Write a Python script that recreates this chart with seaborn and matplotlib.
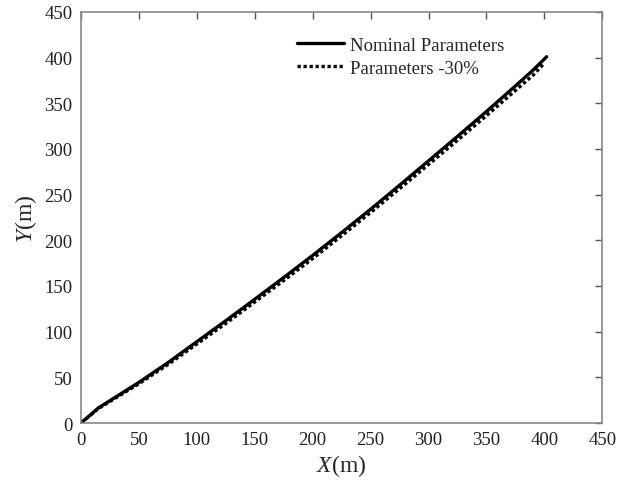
import matplotlib
matplotlib.use("Agg")
import matplotlib.pyplot as plt
import seaborn as sns
import pandas as pd

# Data
x_nominal = [0, 5, 10, 15, 30, 50, 75, 100, 125, 150, 175, 200, 225, 250, 275, 300, 325, 350, 375, 390, 402]
y_nominal = [0, 5.5, 11, 16.5, 28.5, 44.5, 66, 89, 112, 135.5, 159.3, 183.5, 208.5, 234, 260.3, 287, 313.8, 341, 369, 386, 401]
x_minus30 = [0, 5, 10, 15, 30, 50, 75, 100, 125, 150, 175, 200, 225, 250, 275, 300, 325, 350, 375, 390, 400]
y_minus30 = [0, 5.2, 10.5, 15.8, 27.5, 43, 64, 86.5, 109, 132.5, 156, 180, 205, 230.5, 256.5, 283, 309.5, 336.5, 364, 380.5, 394]
labels = ["Nominal Parameters", "Parameters -30%"]
xticks = [0, 50, 100, 150, 200, 250, 300, 350, 400, 450]
yticks = [0, 50, 100, 150, 200, 250, 300, 350, 400, 450]

sns.set_style("white")
plt.rcParams['font.family'] = ['Liberation Serif', 'DejaVu Serif']
plt.rcParams['mathtext.fontset'] = 'custom'
plt.rcParams['mathtext.rm'] = 'Liberation Serif'
plt.rcParams['mathtext.it'] = 'Liberation Serif:italic'

df1 = pd.DataFrame({"x": x_nominal, "y": y_nominal})
df2 = pd.DataFrame({"x": x_minus30, "y": y_minus30})

fig = plt.figure(figsize=(6.28, 4.81), dpi=100)
ax = fig.add_axes([0.129, 0.1185, 0.830, 0.8545])

sns.lineplot(data=df1, x="x", y="y", sort=False, ax=ax, color="black",
             linewidth=2.4, linestyle="-", label=labels[0])
sns.lineplot(data=df2, x="x", y="y", sort=False, ax=ax, color="black",
             linewidth=2.4, linestyle=(0, (1, 0.8)), label=labels[1])

ax.set_xlim(0, 450)
ax.set_ylim(0, 450)
ax.set_xticks(xticks)
ax.set_yticks(yticks)
ax.tick_params(direction="in", length=5, width=1, color="#555555",
               top=True, right=True, labelsize=13.5, pad=6, labelcolor="#222222")
for s in ax.spines.values():
    s.set_color("#888888")
    s.set_linewidth(1.2)

ax.set_xlabel(r"$X$(m)", fontsize=17, labelpad=3)
ax.set_ylabel(r"$Y$(m)", fontsize=17, labelpad=4)

leg = ax.legend(loc="upper left", bbox_to_anchor=(0.415, 0.94), frameon=False,
                handlelength=2.5, handletextpad=0.3, fontsize=13.5,
                borderpad=0, borderaxespad=0, labelspacing=0.3)

fig.savefig("out.png", dpi=100)
